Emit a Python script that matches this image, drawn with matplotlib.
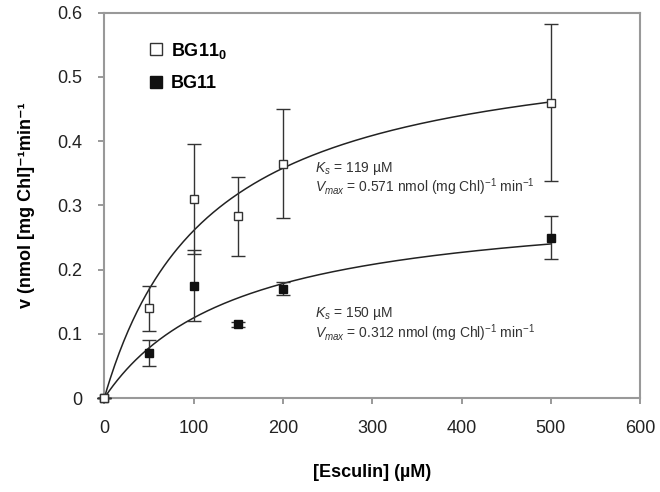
import numpy as np
import matplotlib
matplotlib.use("Agg")
import matplotlib.pyplot as plt
from matplotlib.lines import Line2D

plt.rcParams['font.family'] = ['Liberation Sans', 'DejaVu Sans']
plt.rcParams['mathtext.fontset'] = 'custom'
plt.rcParams['mathtext.rm'] = 'Liberation Sans'
plt.rcParams['mathtext.it'] = 'Liberation Sans:italic'
plt.rcParams['mathtext.bf'] = 'Liberation Sans:bold'

# data
esculin = [0, 50, 100, 150, 200, 500]
v_bg110 = [0, 0.14, 0.31, 0.283, 0.365, 0.46]
err_bg110 = [0, 0.035, 0.085, 0.062, 0.085, 0.122]
v_bg11 = [0, 0.07, 0.175, 0.115, 0.17, 0.25]
err_bg11 = [0, 0.02, 0.055, 0.004, 0.01, 0.034]

# Michaelis-Menten fit parameters (from annotations)
ks_bg110, vmax_bg110 = 119, 0.571
ks_bg11, vmax_bg11 = 150, 0.312

fig = plt.figure(figsize=(6.6, 4.92), dpi=100)
ax = fig.add_axes([0.158, 0.191, 0.812, 0.783])

s = np.linspace(0, 500, 300)
ax.plot(s, vmax_bg110 * s / (ks_bg110 + s), color='#222222', lw=1.1)
ax.plot(s, vmax_bg11 * s / (ks_bg11 + s), color='#222222', lw=1.1)

ax.errorbar(esculin, v_bg11, yerr=err_bg11, fmt='s', color='#111111', mfc='#111111',
            mec='#111111', ms=6, capsize=5, elinewidth=1, capthick=1, ecolor='#333333',
            clip_on=False, zorder=3)
ax.errorbar(esculin, v_bg110, yerr=err_bg110, fmt='s', color='#333333', mfc='white',
            mec='#333333', ms=6, capsize=5, elinewidth=1, capthick=1, ecolor='#333333',
            clip_on=False, zorder=4)

ax.set_xlim(0, 600)
ax.set_ylim(0, 0.6)
ax.set_xticks(range(0, 601, 100))
ax.set_yticks(np.arange(0, 0.61, 0.1))
ax.set_yticklabels(['0', '0.1', '0.2', '0.3', '0.4', '0.5', '0.6'])
for sp in ax.spines.values():
    sp.set_color('#999999')
    sp.set_linewidth(1.5)
ax.tick_params(colors='#888888', labelcolor='#222222', labelsize=13, length=4, width=1.2)
ax.tick_params(axis='y', pad=12)
ax.tick_params(axis='x', pad=12)

ax.set_xlabel('[Esculin] (µM)', fontsize=13, fontweight='bold', labelpad=19)
ax.set_ylabel('v (nmol [mg Chl]⁻¹min⁻¹', fontsize=13, fontweight='bold', labelpad=16)

ann = dict(fontsize=10, color='#333333', va='center')
ax.text(236, 0.358, '$K_s$ = 119 µM', **ann)
ax.text(236, 0.328, '$V_{max}$ = 0.571 nmol (mg Chl)$^{-1}$ min$^{-1}$', **ann)
ax.text(236, 0.131, '$K_s$ = 150 µM', **ann)
ax.text(236, 0.101, '$V_{max}$ = 0.312 nmol (mg Chl)$^{-1}$ min$^{-1}$', **ann)

handles = [Line2D([], [], ls='', marker='s', mfc='white', mec='#333333', ms=8),
           Line2D([], [], ls='', marker='s', mfc='#111111', mec='#111111', ms=8)]
ax.legend(handles, ['BG11$_\\mathbf{0}$', 'BG11'], loc='upper left', bbox_to_anchor=(0.04, 0.97),
          frameon=False, prop={'weight': 'bold', 'size': 13}, handletextpad=0.1,
          labelspacing=0.8, handlelength=1.5)

fig.savefig('out.png', dpi=100)
